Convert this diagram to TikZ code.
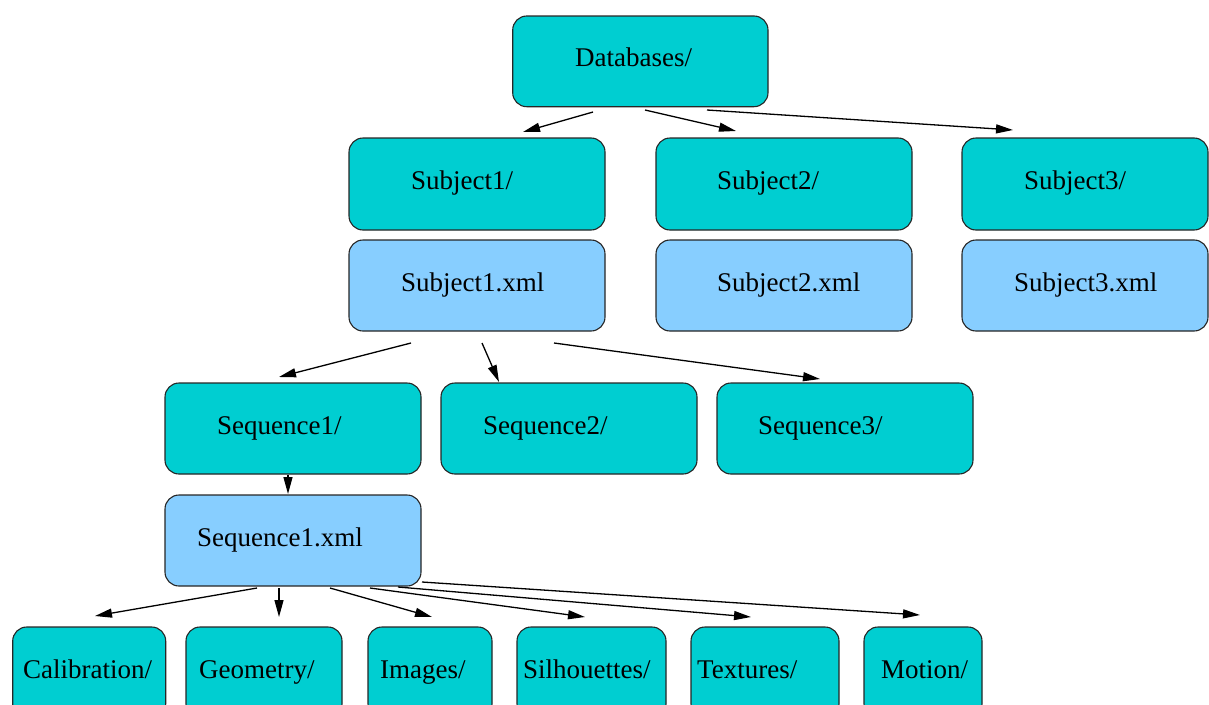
\documentclass[tikz,border=0pt]{standalone}
\usepackage{fontspec}
\setmainfont{Liberation Serif}
\usetikzlibrary{arrows.meta}

\definecolor{dircyan}{RGB}{0,206,209}
\definecolor{xmlblue}{RGB}{135,206,255}

\tikzset{
  dirbox/.style={draw=black!85, line width=1.1pt, rounded corners=14pt, inner sep=0pt},
  folder/.style={dirbox, fill=dircyan},
  xmlfile/.style={dirbox, fill=xmlblue},
  lbl/.style={anchor=base west, inner sep=0pt, font=\fontsize{27}{30}\selectfont},
  link/.style={line width=1.3pt, -{Triangle[length=17pt, width=9pt]}},
}

% \mkbox{name}{style}{x1}{y1}{x2}{y2}{text x}{baseline y}{text}
\newcommand{\mkbox}[9]{%
  \node[#2, minimum width={(#5-#3)*1pt}, minimum height={(#6-#4)*1pt}]
    (#1) at ({(#3+#5)/2},{(#4+#6)/2}) {};
  \node[lbl] (#1-t) at (#7,#8) {#9};
}

\begin{document}
\begin{tikzpicture}[x=1pt, y=-1pt]
  \useasboundingbox (0,0) rectangle (1209,704);
  \begin{scope}
  \clip (0,0) rectangle (1209,704);

  % top level
  \mkbox{db}{folder}{512.7}{16}{768}{106.7}{575}{66.7}{Databases/}

  % subjects
  \mkbox{s1}{folder}{349}{138}{605}{230}{411}{189}{Subject1/}
  \mkbox{s2}{folder}{656}{138}{912}{230}{717}{189}{Subject2/}
  \mkbox{s3}{folder}{962}{138}{1208}{230}{1024}{189}{Subject3/}
  \mkbox{x1}{xmlfile}{349}{240}{605}{331}{401}{291}{Subject1.xml}
  \mkbox{x2}{xmlfile}{656}{240}{912}{331}{717}{291}{Subject2.xml}
  \mkbox{x3}{xmlfile}{962}{240}{1208}{331}{1014}{291}{Subject3.xml}

  % sequences
  \mkbox{q1}{folder}{165}{383}{421}{474}{217}{434}{Sequence1/}
  \mkbox{q2}{folder}{441}{383}{697}{474}{483}{434}{Sequence2/}
  \mkbox{q3}{folder}{717}{383}{973}{474}{758}{434}{Sequence3/}
  \mkbox{qx}{xmlfile}{165}{495}{421}{586}{197}{546}{Sequence1.xml}

  % data folders
  \mkbox{cal}{folder}{12.7}{627}{165.7}{718}{23}{678}{Calibration/}
  \mkbox{geo}{folder}{186}{627}{342}{718}{199}{678}{Geometry/}
  \mkbox{img}{folder}{368}{627}{492}{718}{380}{678}{Images/}
  \mkbox{sil}{folder}{517}{627}{666}{718}{523}{678}{Silhouettes/}
  \mkbox{tex}{folder}{691}{627}{839}{718}{697}{678}{Textures/}
  \mkbox{mot}{folder}{864}{627}{982}{718}{881}{678}{Motion/}

  % connector end points
  \coordinate (a1s) at (593,112);  \coordinate (a1e) at (523,132);
  \coordinate (a2s) at (645,110);  \coordinate (a2e) at (736,131);
  \coordinate (a3s) at (707,110);  \coordinate (a3e) at (1013,130);
  \coordinate (b1s) at (411,343);  \coordinate (b1e) at (279,377);
  \coordinate (b2s) at (482,343);  \coordinate (b2e) at (499,382);
  \coordinate (b3s) at (554,343);  \coordinate (b3e) at (820,379);
  \coordinate (c1s) at (288,475);  \coordinate (c1e) at (288,494);
  \coordinate (d1s) at (257,588);  \coordinate (d1e) at (95,616);
  \coordinate (d2s) at (279,588);  \coordinate (d2e) at (279,617);
  \coordinate (d3s) at (330,588);  \coordinate (d3e) at (432,617);
  \coordinate (d4s) at (370,588);  \coordinate (d4e) at (585,617);
  \coordinate (d5s) at (398,587);  \coordinate (d5e) at (751,617);
  \coordinate (d6s) at (422,582);  \coordinate (d6e) at (920,615);

  \foreach \c in {a1,a2,a3,b1,b2,b3,c1,d1,d2,d3,d4,d5,d6}
    \draw[link] (\c s) -- (\c e);
  \end{scope}
\end{tikzpicture}
\end{document}
